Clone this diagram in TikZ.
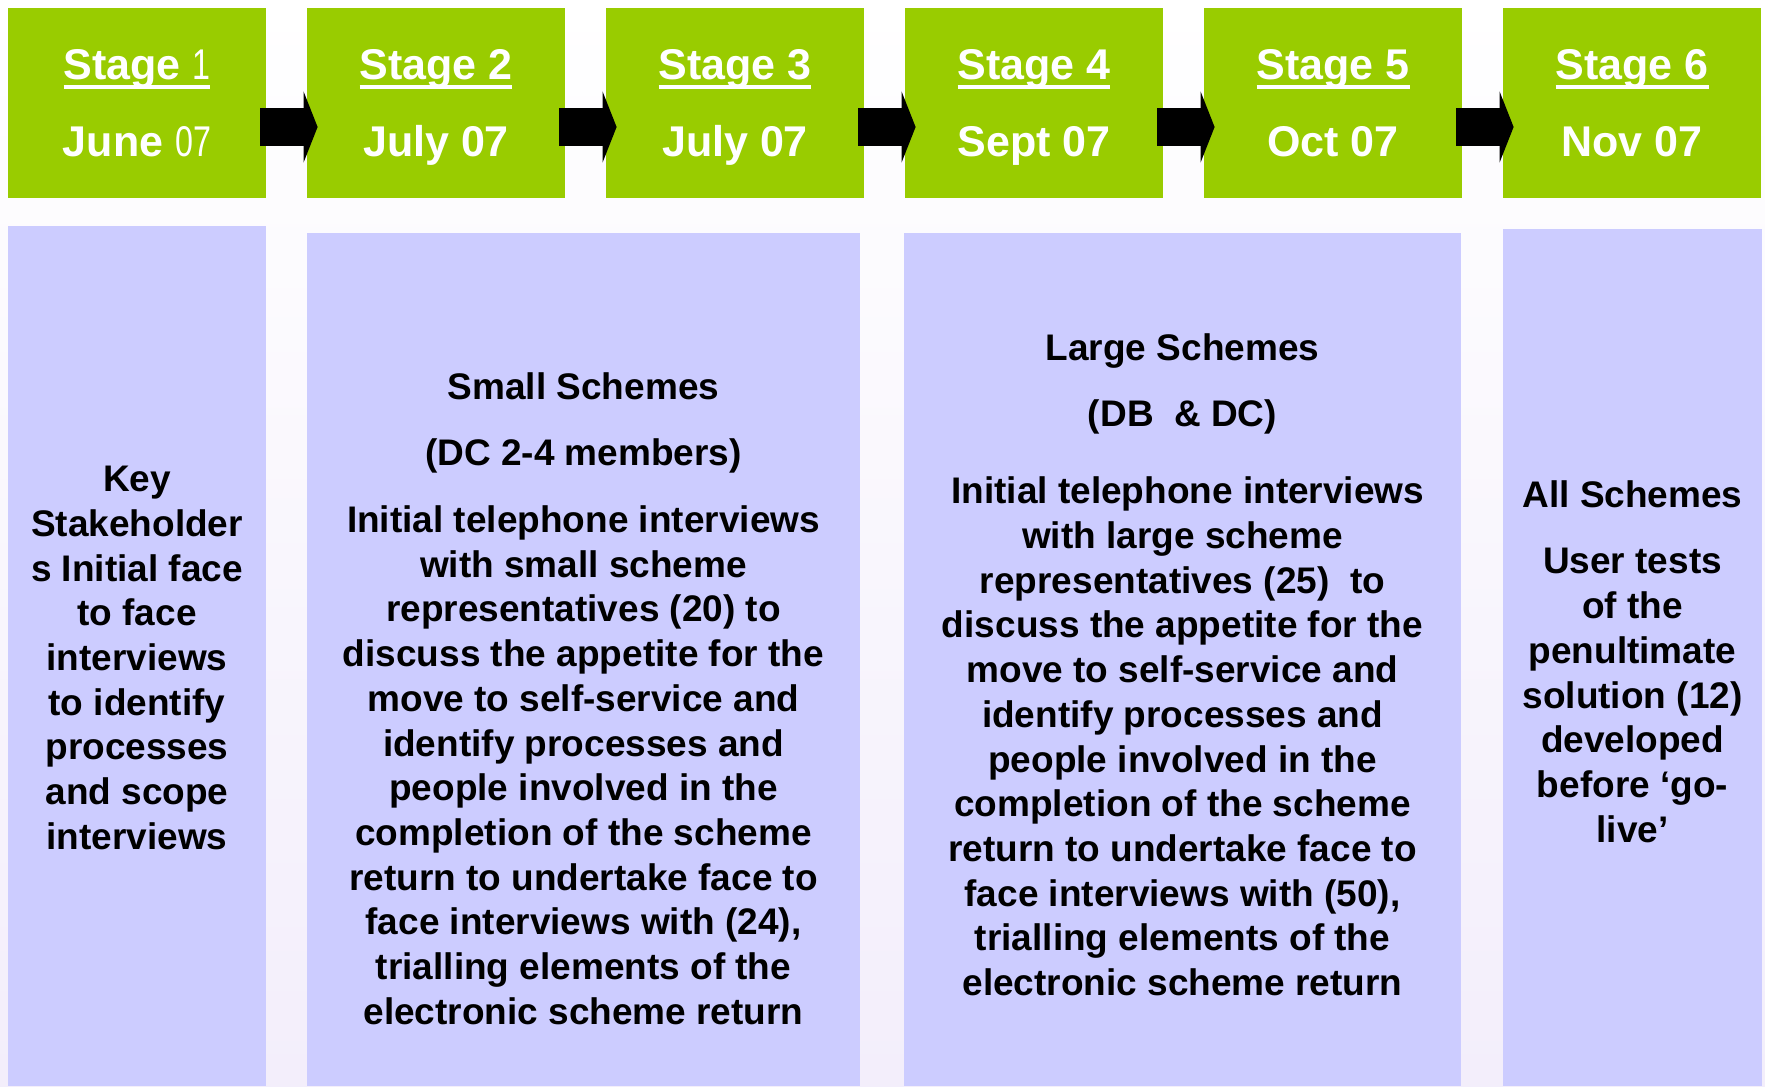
\documentclass[tikz,border=0pt]{standalone}
\usepackage{fontspec}
\setmainfont{Liberation Sans}
\usetikzlibrary{arrows.meta,calc}

\definecolor{stagegreen}{HTML}{99CC00}
\definecolor{detailblue}{HTML}{CCCCFF}
\definecolor{paleviolet}{HTML}{F3EEFB}

% white bar under the stage titles
\newcommand{\stageul}[1]{\setbox0\hbox{#1}\rlap{\rule[-4.4pt]{\wd0}{1.8pt}}\box0}
% narrow light figures
\newcommand{\thin}[1]{{\mdseries\scalebox{0.75}[1]{#1}}}

\tikzset{
  stage/.style={fill=stagegreen, text=white, minimum width=129pt, minimum height=95pt,
    inner sep=0pt, align=center, font=\fontsize{21.5}{38.5}\selectfont\bfseries},
  detail/.style={fill=detailblue},
  notes/.style={align=center, inner sep=0pt, font=\fontsize{18.5}{22.35}\selectfont\bfseries,
    execute at begin node=\strut, execute at end node=\strut},
  link/.style={line width=18.5pt, -{Triangle[length=7pt,width=35.5pt,line width=0pt]}}
}

\begin{document}
\begin{tikzpicture}[x=0.5pt,y=-0.5pt]
    \useasboundingbox (0,0) rectangle (1765,1086);
    \shade[top color=white, bottom color=paleviolet] (0,0) rectangle (1765,1086);

    % stages along the top
    \node[stage] (s1) at (137,103) {\strut\stageul{Stage \thin{1}}\\\strut June \thin{07}};
    \node[stage] (s2) at (436,103) {\strut\stageul{Stage 2}\\\strut July 07};
    \node[stage] (s3) at (735,103) {\strut\stageul{Stage 3}\\\strut July 07};
    \node[stage] (s4) at (1034,103) {\strut\stageul{Stage 4}\\\strut Sept 07};
    \node[stage] (s5) at (1333,103) {\strut\stageul{Stage 5}\\\strut Oct 07};
    \node[stage] (s6) at (1632,103) {\strut\stageul{Stage 6}\\\strut Nov 07};

    \foreach \a/\b in {s1/s2,s2/s3,s3/s4,s4/s5,s5/s6}
        \draw[link] ($(\a.east)+(-6,24)$) -- ($(\b.west)+(11,24)$);

    % panels below the stages
    \fill[detail] (8,226) rectangle (266,1086);
    \fill[detail] (307,233) rectangle (860,1086);
    \fill[detail] (904,233) rectangle (1461,1086);
    \fill[detail] (1503,229) rectangle (1762,1086);

    \node[notes] (key) at (137,664.5) {Key\\Stakeholder\\s Initial face\\to face\\interviews\\to identify\\processes\\and scope\\interviews};
    \node[notes] (small) at (583.5,705) {Small Schemes\\[11pt](DC 2-4 members)\\[11pt]Initial telephone interviews\\with small scheme\\representatives (20) to\\discuss the appetite for the\\move to self-service and\\identify processes and\\people involved in the\\completion of the scheme\\return to undertake face to\\face interviews with (24),\\trialling elements of the\\electronic scheme return};
    \node[notes] (large) at (1182.5,671.5) {Large Schemes\\[10.6pt](DB\ \ \& DC)\\[16.2pt]\hspace*{.28em}Initial telephone interviews\\with large scheme\\representatives (25)\ \ to\\discuss the appetite for the\\move to self-service and\\identify processes and\\people involved in the\\completion of the scheme\\return to undertake face to\\face interviews with (50),\\trialling elements of the\\electronic scheme return};
    \node[notes] (all) at (1632.5,668) {All Schemes\\[11pt]User tests\\of the\\penultimate\\solution (12)\\developed\\before ‘go-\\live’};
\end{tikzpicture}
\end{document}
